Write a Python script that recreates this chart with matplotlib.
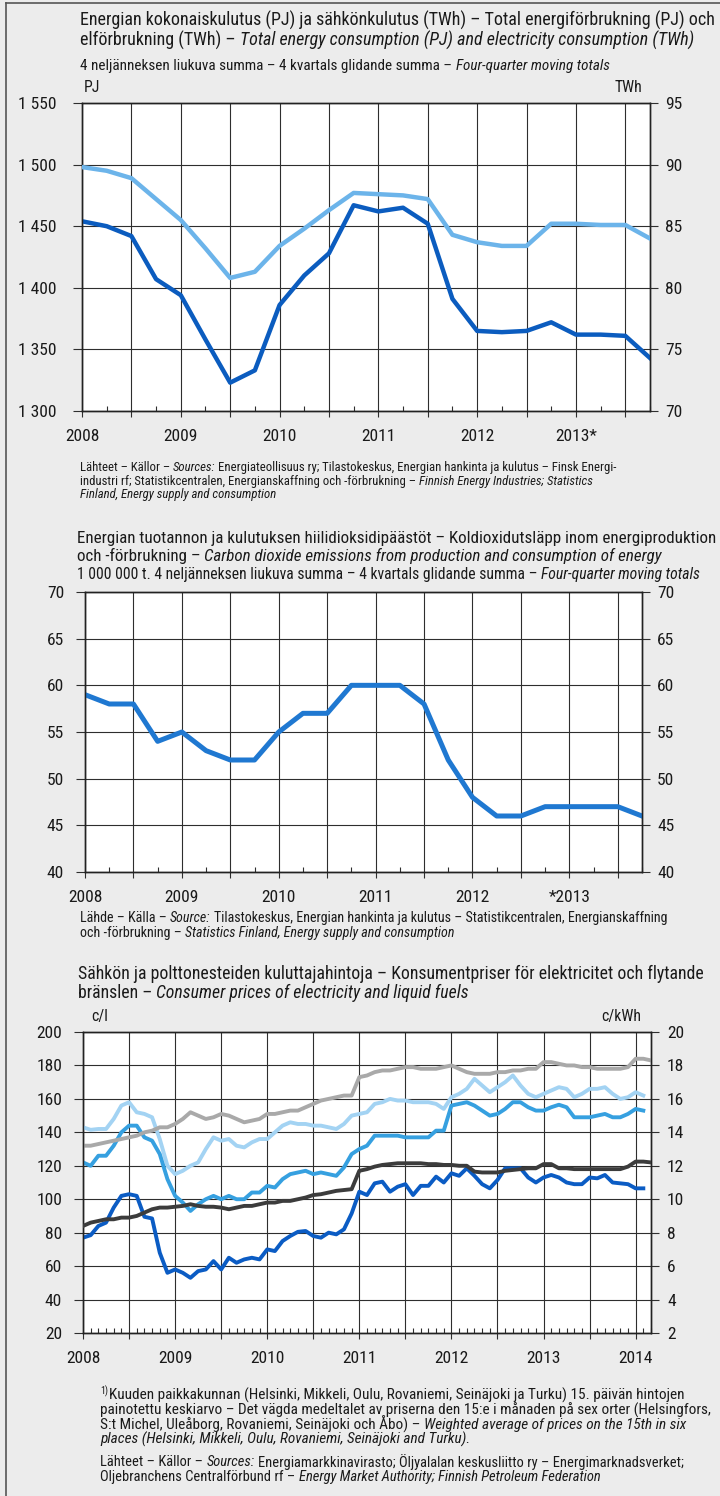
import matplotlib
matplotlib.use('Agg')
import matplotlib.pyplot as plt
import numpy as np
from matplotlib import font_manager as fm
from matplotlib.ticker import FixedLocator, MultipleLocator, FuncFormatter
from matplotlib.lines import Line2D

# --- chart 1: quarterly 2008Q1..2013Q4
energy_pj = [1454, 1450, 1442, 1407, 1394, 1358, 1323, 1333, 1386, 1410, 1428, 1467,
             1462, 1465, 1452, 1391, 1365, 1364, 1365, 1372, 1362, 1362, 1361, 1343]
elec_twh = [89.8, 89.5, 88.9, 87.2, 85.5, 83.2, 80.8, 81.3, 83.4, 84.8, 86.3, 87.7,
            87.6, 87.5, 87.2, 84.3, 83.7, 83.4, 83.4, 85.2, 85.2, 85.1, 85.1, 84.0]
years1 = ['2008', '2009', '2010', '2011', '2012', '2013*']

# --- chart 2: quarterly CO2, million tonnes
co2 = [59, 58, 58, 54, 55, 53, 52, 52, 55, 57, 57, 60,
       60, 60, 58, 52, 48, 46, 46, 47, 47, 47, 47, 46]
years2 = ['2008', '2009', '2010', '2011', '2012', '*2013']

# --- chart 3: monthly prices from Jan 2008
fuel_oil = [77, 78.5, 84, 86, 95, 102, 103, 102, 89.5, 88.5, 68, 56,
            58, 56, 53, 57, 58, 63, 58, 65, 62, 64, 65, 64,
            70, 69, 75, 78, 80.5, 81, 78, 77, 80, 79, 82, 91.5,
            104.5, 102.5, 109.5, 110.5, 104.5, 107.5, 109, 102.5, 108, 108, 113.5, 110,
            115.5, 114, 118.5, 114, 109, 106.5, 111.5, 118.5, 118.5, 118.5, 113, 110,
            113, 114.5, 113, 110, 109, 109, 113, 112.5, 114.5, 110, 109.5, 109,
            106.5, 106.5]
diesel = [122, 120, 126, 126, 132, 140, 144, 144, 137, 135, 127, 112,
          102, 98, 93, 97, 100, 102, 100, 102, 100, 100, 104, 104,
          108, 107, 112, 115, 116, 117, 115, 116, 115, 114, 119, 127,
          130, 132, 138, 138, 138, 138, 137, 137, 137, 137, 141, 141,
          156, 157, 158, 156, 153, 150, 151, 154, 158, 158, 155, 153,
          153, 155, 156.5, 155, 149, 149, 149, 150, 151, 149, 149, 151,
          154, 153]
petrol = [143, 141.5, 142, 142, 148, 156, 158, 152, 151, 149, 136, 120,
          115, 117, 120, 122, 130, 137, 135, 136, 132, 131, 134, 136,
          136, 140, 144, 146, 145, 145, 144, 144, 143, 142, 145, 150,
          151, 152, 157, 158, 160, 159, 159, 158, 158, 158, 157, 154,
          161, 163, 166, 172, 168, 164, 167, 170, 174, 168, 163, 161,
          163, 165, 167, 166, 161, 163, 166, 166, 167, 163, 160, 161,
          164, 162]
elec_house = [13.2, 13.2, 13.3, 13.4, 13.5, 13.6, 13.7, 13.8, 14.0, 14.1, 14.3, 14.3,
              14.5, 14.8, 15.2, 15.0, 14.8, 14.9, 15.1, 15.0, 14.8, 14.6, 14.7, 14.8,
              15.1, 15.1, 15.2, 15.3, 15.3, 15.5, 15.7, 15.9, 16.0, 16.1, 16.2, 16.2,
              17.3, 17.4, 17.6, 17.7, 17.7, 17.8, 17.9, 17.9, 17.8, 17.8, 17.8, 17.9,
              18.0, 17.8, 17.6, 17.5, 17.5, 17.5, 17.6, 17.6, 17.7, 17.7, 17.8, 17.8,
              18.2, 18.2, 18.1, 18.0, 18.0, 17.9, 17.9, 17.8, 17.8, 17.8, 17.8, 17.9,
              18.4, 18.4, 18.3]
elec_other = [8.4, 8.6, 8.7, 8.8, 8.8, 8.9, 8.9, 9.0, 9.2, 9.4, 9.5, 9.5,
              9.55, 9.6, 9.7, 9.6, 9.55, 9.55, 9.5, 9.4, 9.5, 9.6, 9.6, 9.7,
              9.8, 9.8, 9.9, 9.9, 10.0, 10.1, 10.25, 10.3, 10.4, 10.5, 10.55, 10.6,
              11.7, 11.8, 11.95, 12.05, 12.1, 12.15, 12.15, 12.15, 12.15, 12.1, 12.1, 12.05,
              12.05, 12.0, 12.0, 11.65, 11.6, 11.6, 11.6, 11.7, 11.75, 11.8, 11.85, 11.85,
              12.1, 12.1, 11.85, 11.85, 11.8, 11.8, 11.8, 11.8, 11.8, 11.8, 11.8, 11.95,
              12.25, 12.25, 12.2]
years3 = ['2008', '2009', '2010', '2011', '2012', '2013', '2014']


# pick a narrow/condensed face if one is installed (the original uses a condensed grotesk)
def pick_font():
    entries = fm.fontManager.ttflist
    for fam in ['Liberation Sans Narrow', 'Roboto Condensed', 'Open Sans Condensed']:
        if any(f.name == fam for f in entries):
            return fam, 'normal'
    for fam in ['Noto Sans', 'DejaVu Sans', 'Open Sans', 'Roboto']:
        for f in entries:
            if f.name == fam and 'condensed' in str(f.stretch) and f.style == 'normal':
                return fam, 'condensed'
    return 'Liberation Sans', 'normal'


FAM, STRETCH = pick_font()
plt.rcParams['font.family'] = [FAM, 'DejaVu Sans']
plt.rcParams['font.stretch'] = STRETCH

W, H = 720, 1496
fig = plt.figure(figsize=(W / 100, H / 100), dpi=100, facecolor='#ececec')
renderer = fig.canvas.get_renderer()
GRID = '#2e2e2e'
TXT = '#1a1a1a'


def text_w(s, size, italic=False):
    t = fig.text(0, 0, s, fontsize=size, style='italic' if italic else 'normal')
    w = t.get_window_extent(renderer).width
    t.remove()
    return w


def parts_w(parts, size):
    sp = text_w('a a', size) - text_w('aa', size)
    return sum(text_w(s, size, it) for s, it in parts) + sp * (len(parts) - 1)


def fit(parts, x0, x1, base=10):
    return base * (x1 - x0) / parts_w(parts, base)


def rich(x, y, parts, size):
    sp = text_w('a a', size) - text_w('aa', size)
    for s, it in parts:
        t = fig.text(x / W, 1 - y / H, s, fontsize=size, style='italic' if it else 'normal',
                     va='center', ha='left', color=TXT)
        x = t.get_window_extent(renderer).x1 + sp


def block(x0, y0, step, lines, x_end, fit_line=0):
    size = fit(lines[fit_line], x0, x_end)
    for k, parts in enumerate(lines):
        rich(x0, y0 + k * step, parts, size)
    return size


def ax_at(l, t, r, b):
    return fig.add_axes([l / W, 1 - b / H, (r - l) / W, (b - t) / H])


TICK = fit([('2008', False)], 0, 34)
PX = 72 / 100  # pixels -> points


def style_axes(ax, axr, xlim, xmaj, xlabels, minor_step, ylim, ystep, ylim_r, ystep_r,
               fmt_l, pad_l, pad_r):
    ax.set_xlim(*xlim)
    ax.set_ylim(*ylim)
    axr.set_ylim(*ylim_r)
    ax.yaxis.set_major_locator(MultipleLocator(ystep))
    axr.yaxis.set_major_locator(MultipleLocator(ystep_r))
    ax.yaxis.set_major_formatter(FuncFormatter(fmt_l))
    axr.yaxis.set_major_formatter(FuncFormatter(lambda v, p: f'{v:g}'))
    ax.xaxis.set_major_locator(FixedLocator(xmaj))
    ax.xaxis.set_major_formatter(FuncFormatter(
        lambda v, p: xlabels.get(round(v * 2) / 2, '')))
    ax.xaxis.set_minor_locator(MultipleLocator(minor_step))
    ax.grid(True, which='major', color=GRID, lw=0.8)
    ax.set_axisbelow(True)
    ax.tick_params(axis='y', which='major', length=9 * PX, width=0.8, pad=pad_l * PX,
                   labelsize=TICK, color=GRID, labelcolor=TXT)
    axr.tick_params(axis='y', which='major', length=8 * PX, width=0.8, pad=pad_r * PX,
                    labelsize=TICK, color=GRID, labelcolor=TXT)
    ax.tick_params(axis='x', which='major', length=6 * PX, width=0.8, pad=12 * PX,
                   labelsize=TICK, color=GRID, labelcolor=TXT)
    ax.tick_params(axis='x', which='minor', direction='in', length=5 * PX, width=0.8,
                   color=GRID)
    for a in (ax, axr):
        for sp in a.spines.values():
            sp.set_color('#222222')
            sp.set_linewidth(1.0)
    ax.set_facecolor('white')


def thousands(v, p):
    return f'{int(v):,}'.replace(',', ' ')


# ================= chart 1 =================
block(80, 20, 20, [
    [('Energian kokonaiskulutus (PJ) ja sähkönkulutus (TWh) – Total energiförbrukning (PJ) och', False)],
    [('elförbrukning (TWh) –', False),
     ('Total energy consumption (PJ) and electricity consumption (TWh)', True)]], 714)
block(80, 66, 0, [[('4 neljänneksen liukuva summa – 4 kvartals glidande summa –', False),
                   ('Four-quarter moving totals', True)]], 605)

ax1 = ax_at(82, 103, 650, 411)
ax1r = ax1.twinx()
q = 2008 + np.arange(len(energy_pj)) / 4
ax1.plot(q, energy_pj, color='#0b5cbf', lw=3.2, solid_joinstyle='round', zorder=3)
ax1r.plot(q, elec_twh, color='#6cb4ea', lw=3.2, solid_joinstyle='round', zorder=3)
half1 = np.arange(2008, 2013.76, 0.5)
style_axes(ax1, ax1r, (2008, 2013.75), half1,
           {2008.0 + i: s for i, s in enumerate(years1)}, 0.25,
           (1300, 1550), 50, (70, 95), 5, thousands, 17, 7)
fig.text(84 / W, 1 - 88 / H, 'PJ', fontsize=TICK * 0.9, va='center', ha='left', color=TXT)
fig.text(642 / W, 1 - 88 / H, 'TWh', fontsize=TICK * 0.9, va='center', ha='right', color=TXT)

block(80, 467, 14, [
    [('Lähteet – Källor –', False), ('Sources:', True),
     ('Energiateollisuus ry; Tilastokeskus, Energian hankinta ja kulutus – Finsk Energi-', False)],
    [('industri rf; Statistikcentralen, Energianskaffning och -förbrukning –', False),
     ('Finnish Energy Industries; Statistics', True)],
    [('Finland, Energy supply and consumption', True)]], 617)

# ================= chart 2 =================
block(77, 538, 18, [
    [('Energian tuotannon ja kulutuksen hiilidioksidipäästöt – Koldioxidutsläpp inom energiproduktion', False)],
    [('och -förbrukning –', False),
     ('Carbon dioxide emissions from production and consumption of energy', True)]], 716)
block(77, 574, 0, [[('1 000 000 t. 4 neljänneksen liukuva summa – 4 kvartals glidande summa –', False),
                    ('Four-quarter moving totals', True)]], 697)

ax2 = ax_at(85, 592, 642, 872)
ax2r = ax2.twinx()
ax2.plot(q, co2, color='#1f78d1', lw=3.6, solid_joinstyle='round', zorder=3)
style_axes(ax2, ax2r, (2008, 2013.75), half1,
           {2008.0 + i: s for i, s in enumerate(years2)}, 0.25,
           (40, 70), 5, (40, 70), 5, lambda v, p: f'{v:g}', 12, 7)

block(80, 918, 15, [
    [('Lähde – Källa –', False), ('Source:', True),
     ('Tilastokeskus, Energian hankinta ja kulutus – Statistikcentralen, Energianskaffning', False)],
    [('och -förbrukning –', False), ('Statistics Finland, Energy supply and consumption', True)]], 668)

# ================= chart 3 =================
block(78, 974, 19, [
    [('Sähkön ja polttonesteiden kuluttajahintoja – Konsumentpriser för elektricitet och flytande', False)],
    [('bränslen –', False), ('Consumer prices of electricity and liquid fuels', True)]], 702)

ax3 = ax_at(83, 1032, 651, 1333)
ax3r = ax3.twinx()
m_fuel = 2008 + np.arange(len(fuel_oil)) / 12
m_el = 2008 + np.arange(len(elec_house)) / 12
ax3r.plot(m_el, elec_house, color='#a9a9a9', lw=2.8, solid_joinstyle='round', zorder=2)
ax3.plot(m_fuel, petrol, color='#a3d3f3', lw=2.8, solid_joinstyle='round', zorder=3)
ax3.plot(m_fuel, diesel, color='#36a0e0', lw=2.8, solid_joinstyle='round', zorder=3)
ax3.plot(m_fuel, fuel_oil, color='#0b5cc4', lw=2.8, solid_joinstyle='round', zorder=3)
ax3r.plot(m_el, elec_other, color='#3c3c3c', lw=2.8, solid_joinstyle='round', zorder=4)
half3 = np.arange(2008, 2014.01, 0.5)
style_axes(ax3, ax3r, (2008, 2014 + 2 / 12), half3,
           {2008.0 + i: s for i, s in enumerate(years3)}, 1 / 12,
           (20, 200), 20, (2, 20), 2, lambda v, p: f'{v:g}', 12, 8)
fig.text(91 / W, 1 - 1016 / H, 'c/l', fontsize=TICK * 0.9, va='center', ha='left', color=TXT)
fig.text(641 / W, 1 - 1016 / H, 'c/kWh', fontsize=TICK * 0.9, va='center', ha='right', color=TXT)

fn = block(100, 1410, 14.5, [
    [('painotettu keskiarvo – Det vägda medeltalet av priserna den 15:e i månaden på sex orter (Helsingfors,', False)],
    [('S:t Michel, Uleåborg, Rovaniemi, Seinäjoki och Åbo) –', False),
     ('Weighted average of prices on the 15th in six', True)],
    [('places (Helsinki, Mikkeli, Oulu, Rovaniemi, Seinäjoki and Turku).', True)]], 708)
fig.text(100 / W, 1 - 1391 / H, '1)', fontsize=fn * 0.65, va='center', ha='left', color=TXT)
rich(100 + text_w('1)', fn * 0.65) + 1, 1395,
     [('Kuuden paikkakunnan (Helsinki, Mikkeli, Oulu, Rovaniemi, Seinäjoki ja Turku) 15. päivän hintojen', False)], fn)
block(100, 1462, 14.5, [
    [('Lähteet – Källor –', False), ('Sources:', True),
     ('Energiamarkkinavirasto; Öljyalalan keskusliitto ry – Energimarknadsverket;', False)],
    [('Oljebranchens Centralförbund rf –', False),
     ('Energy Market Authority; Finnish Petroleum Federation', True)]], 682)

# page frame
fig.add_artist(Line2D([6 / W, 6 / W], [0, 1 - 3 / H], color='#555555', lw=1.2))
fig.add_artist(Line2D([6 / W, 1], [1 - 3 / H, 1 - 3 / H], color='#555555', lw=1.2))

fig.savefig('out.png', dpi=100, facecolor=fig.get_facecolor())
